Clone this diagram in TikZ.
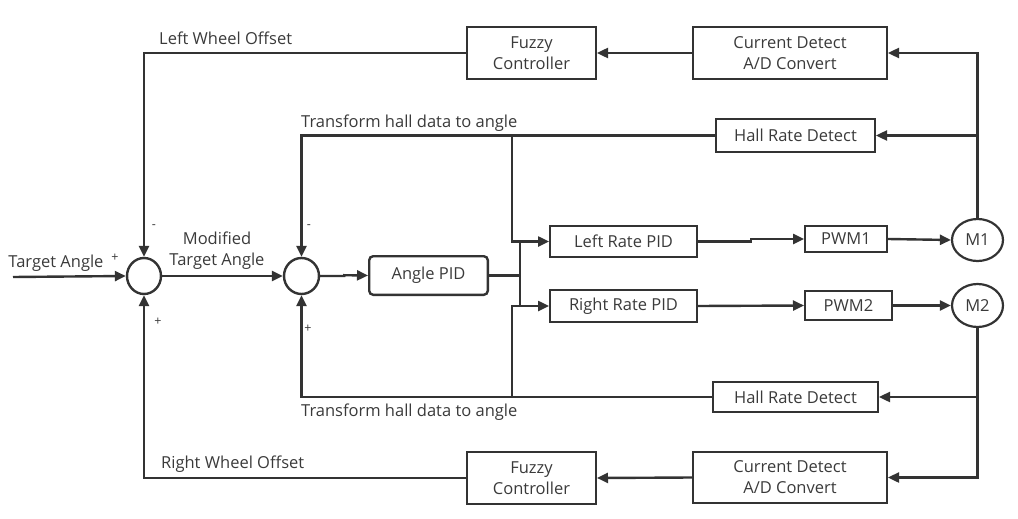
\documentclass[tikz,border=0pt]{standalone}
\usepackage{fontspec}
\setmainfont{Open Sans}
\usetikzlibrary{arrows.meta,shapes.geometric}
\definecolor{lc}{HTML}{333333}
\definecolor{tc}{HTML}{3A3A3A}
\begin{document}
\begin{tikzpicture}[x=1pt,y=-1pt,
  every node/.style={text=tc, font=\fontsize{16.5}{21}\selectfont, inner sep=0pt},
  box/.style={draw=lc, line width=2.4pt, align=center},
  rbox/.style={box, rounded corners=4pt},
  sumc/.style={draw=lc, line width=2.4pt, ellipse},
  motor/.style={draw=lc, line width=2.2pt, ellipse},
  wire/.style={draw=lc, line width=2.4pt},
  arr/.style={wire, -{Triangle[length=11pt,width=10pt]}},
  lbl/.style={anchor=west},
  sgn/.style={font=\fontsize{12.5}{14}\selectfont}]
\useasboundingbox (0,0) rectangle (1018,519);
% blocks
\node[box, minimum width=128.6pt, minimum height=51.6pt] (fz1) at (531.5,53) {Fuzzy\\Controller};
\node[box, minimum width=193.6pt, minimum height=51.6pt] (cd1) at (790,53) {Current Detect\\A/D Convert};
\node[box, minimum width=158.6pt, minimum height=32.6pt] (hr1) at (795.5,135.5) {Hall Rate Detect};
\node[rbox, minimum width=118.6pt, minimum height=38.6pt] (apid) at (428.5,275.5) {Angle PID};
\node[box, minimum width=146.6pt, minimum height=30.6pt] (lr) at (623.5,241.5) {Left Rate PID};
\node[box, minimum width=146.6pt, minimum height=31.6pt] (rr) at (623.5,306) {Right Rate PID};
\node[box, minimum width=81.6pt, minimum height=25.6pt] (pwm1) at (846,239) {PWM1};
\node[box, minimum width=86.6pt, minimum height=28.6pt] (pwm2) at (848.5,305.5) {PWM2};
\node[motor, minimum width=51pt, minimum height=42pt] (m1) at (977.5,240) {M1};
\node[motor, minimum width=51pt, minimum height=43pt] (m2) at (977.5,305.5) {M2};
\node[box, minimum width=164.6pt, minimum height=29.6pt] (hr2) at (795.5,397) {Hall Rate Detect};
\node[box, minimum width=128.6pt, minimum height=51.6pt] (fz2) at (531.5,478) {Fuzzy\\Controller};
\node[box, minimum width=193.6pt, minimum height=50.6pt] (cd2) at (790,477.5) {Current Detect\\A/D Convert};
\node[sumc, minimum width=34pt, minimum height=36pt] (s1) at (144,276) {};
\node[sumc, minimum width=35pt, minimum height=36pt] (s2) at (301.5,276) {};
% helper coordinates
\coordinate (in) at (13,277);
\coordinate (jt) at (512,136);
\coordinate (jb) at (512,397);
% labels
\node (ta) at (56,263) {Target Angle};
\node[sgn] (p0) at (115,258) {+};
\node[align=center] (mta) at (217,250.5) {Modified\\Target Angle};
\node[lbl] (lwo) at (159,38) {Left Wheel Offset};
\node[lbl] (th1) at (301,123) {Transform hall data to angle};
\node[lbl] (th2) at (301,412) {Transform hall data to angle};
\node[lbl] (rwo) at (161,464) {Right Wheel Offset};
\node[sgn] (n1) at (154,227) {-};
\node[sgn] (n2) at (309,227) {-};
\node[sgn] (p1) at (158,322) {+};
\node[sgn] (p2) at (308,329) {+};
% connectors
\draw[arr] (in) -- (s1.west);
\draw[arr] (s1.east) -- (s2.west);
\draw[arr] (s2.east) -- ++(24,0) -- ++(0,-0.8) -- (apid.west);
\draw[wire] (apid.east) -- ++(31,0) coordinate (bus);
\draw[wire] (bus |- lr.west) -- (bus |- rr.west);
\draw[arr] (jt) |- (lr.west);
\draw[arr] (jb) |- (rr.west);
\draw[arr] (hr1.west) -| (s2.north);
\draw[arr] (hr2.west) -| (s2.south);
\draw[arr] (lr.east) -- ++(53,0) |- (pwm1.west);
\draw[arr] (rr.east) -- (pwm2.west);
\draw[arr] (pwm1.east) -- (m1.west);
\draw[arr] (pwm2.east) -- ++(29,0) |- (m2.west);
\draw[arr] (m1.north) |- (cd1.east);
\draw[arr] (m1.north |- hr1.east) -- (hr1.east);
\draw[arr] (m2.south) |- (cd2.east);
\draw[arr] (m2.south |- hr2.east) -- (hr2.east);
\draw[arr] (cd1.west) -- (fz1.east);
\draw[arr] (cd2.west) -- (fz2.east);
\draw[arr] (fz1.west) -| (s1.north);
\draw[arr] (fz2.west) -| (s1.south);
\end{tikzpicture}
\end{document}
